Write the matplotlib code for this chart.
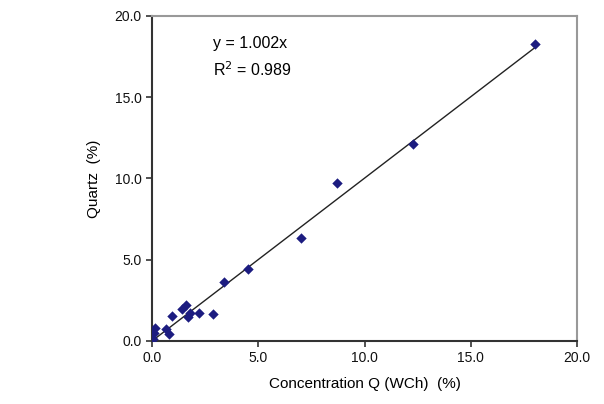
import matplotlib
matplotlib.use("Agg")
import matplotlib.pyplot as plt
import numpy as np
from matplotlib.ticker import FormatStrFormatter

plt.rcParams['font.family'] = ['Liberation Sans', 'DejaVu Sans']

conc_q = [0.05, 0.1, 0.15, 0.65, 0.8, 0.95, 1.4, 1.6, 1.7, 1.8, 2.2, 2.85, 3.4, 4.5, 7.0, 8.7, 12.3, 18.0]
quartz = [0.15, 0.5, 0.8, 0.75, 0.45, 1.55, 2.0, 2.2, 1.5, 1.7, 1.75, 1.65, 3.65, 4.45, 6.35, 9.75, 12.15, 18.3]
slope = 1.002
r2 = 0.989
ticks = [0, 5, 10, 15, 20]

fig = plt.figure(figsize=(6.04, 4.04), dpi=100)
ax = fig.add_axes([152/604, 1 - 341/404, 425/604, 325/404])

xl = np.array([0, max(conc_q)])
ax.plot(xl, slope * xl, color='#222222', lw=1.0, zorder=2)
ax.scatter(conc_q, quartz, marker='D', s=28, color='#1c1c80', zorder=3, linewidths=0)

ax.set_xlim(0, 20)
ax.set_ylim(0, 20)
ax.set_xticks(ticks)
ax.set_yticks(ticks)
ax.xaxis.set_major_formatter(FormatStrFormatter('%.1f'))
ax.yaxis.set_major_formatter(FormatStrFormatter('%.1f'))
ax.tick_params(direction='out', length=4, width=1.2, labelsize=10, color='#333333', labelcolor='#111111')
for s in ['left', 'bottom']:
    ax.spines[s].set_color('#333333')
    ax.spines[s].set_linewidth(1.5)
for s in ['top', 'right']:
    ax.spines[s].set_color('#999999')
    ax.spines[s].set_linewidth(1.5)

ax.text(2.87, 18.3, f'y = {slope:.3f}x', fontsize=11.5, va='center', ha='left')
ax.text(2.87, 16.7, f'R$^2$ = {r2:.3f}', fontsize=11.5, va='center', ha='left')

ax.set_xlabel('Concentration Q (WCh)  (%)', fontsize=11, labelpad=8)
ax.set_ylabel('Quartz  (%)', fontsize=11, labelpad=10)

fig.savefig('out.png', dpi=100)
